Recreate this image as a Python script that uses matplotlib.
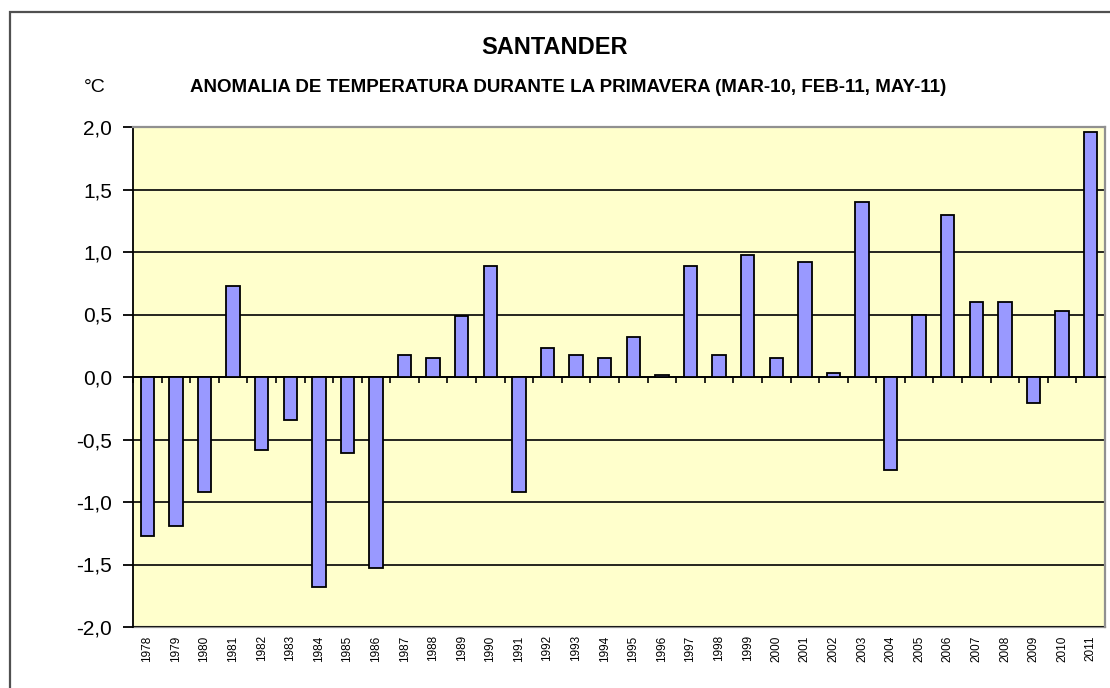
import numpy as np
import matplotlib
matplotlib.use("Agg")
from matplotlib import pyplot as plt
from matplotlib.ticker import FuncFormatter
from matplotlib.patches import Rectangle

years = list(range(1978, 2012))
anomaly = [-1.27, -1.19, -0.92, 0.73, -0.58, -0.34, -1.68, -0.61, -1.53, 0.18,
           0.15, 0.49, 0.89, -0.92, 0.23, 0.18, 0.15, 0.32, 0.02, 0.89,
           0.18, 0.98, 0.15, 0.92, 0.03, 1.40, -0.74, 0.50, 1.30, 0.60,
           0.60, -0.21, 0.53, 1.96]
y_ticks = [-2.0, -1.5, -1.0, -0.5, 0.0, 0.5, 1.0, 1.5, 2.0]

plt.rcParams['font.family'] = ['Liberation Sans', 'DejaVu Sans']

fig = plt.figure(figsize=(11.1, 6.88), dpi=100)
ax = fig.add_axes([133/1110, 1 - 627/688, 972/1110, 500/688])

x = np.arange(len(years))
ax.bar(x, anomaly, width=0.47, color='#9999FF', edgecolor='black', linewidth=1.3, zorder=3)

ax.set_facecolor('#FFFFCC')
ax.set_xlim(-0.5, len(years) - 0.5)
ax.set_ylim(-2.0, 2.0)
ax.set_yticks(y_ticks)
ax.yaxis.set_major_formatter(FuncFormatter(lambda v, p: f"{v:.1f}".replace('.', ',')))
ax.tick_params(axis='y', direction='out', length=7, width=1.3, pad=8, labelsize=15)
ax.yaxis.grid(True, color='black', linewidth=1.2)
ax.set_axisbelow(True)

# category axis crosses at zero, ticks between the categories
ax.spines['bottom'].set_position(('data', 0))
ax.spines['bottom'].set_linewidth(1.3)
ax.set_xticks(np.arange(-0.5, len(years), 1))
ax.tick_params(axis='x', direction='out', length=4, width=1.2, labelbottom=False)
ax.spines['left'].set_linewidth(1.3)
for s in ['top', 'right']:
    ax.spines[s].set_color('#909090')
    ax.spines[s].set_linewidth(1.6)

# year labels at the bottom of the plot area
sec = ax.secondary_xaxis('bottom')
sec.set_xticks(x, labels=[str(y) for y in years], rotation=90, fontsize=8.5)
sec.tick_params(length=0, pad=6)
sec.spines['bottom'].set_color('#909090')
sec.spines['bottom'].set_linewidth(1.6)

fig.text(0.5, 1 - 48/688, 'SANTANDER', ha='center', va='center', fontsize=17, fontweight='bold')
fig.text(0.512, 1 - 87/688, 'ANOMALIA DE TEMPERATURA DURANTE LA PRIMAVERA (MAR-10, FEB-11, MAY-11)',
         ha='center', va='center', fontsize=13.5, fontweight='bold')
fig.text(0.0856, 1 - 87/688, '°C', ha='center', va='center', fontsize=14)

# chart frame, cut off at right and bottom
fig.patches.append(Rectangle((10/1110, -0.2), 1.5, 1.2 - 12/688, transform=fig.transFigure,
                             fill=False, edgecolor='#505050', linewidth=1.6))

fig.savefig('out.png', dpi=100)
